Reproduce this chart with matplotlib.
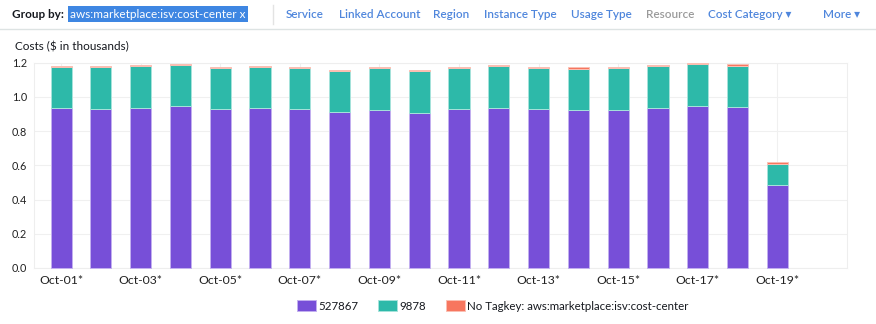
import matplotlib
matplotlib.use("Agg")
import matplotlib.pyplot as plt
from matplotlib.patches import Patch
from matplotlib.lines import Line2D
import numpy as np

plt.rcParams['font.family'] = ['Lato', 'DejaVu Sans']

days = ["Oct-%02d*" % d for d in range(1, 20)]
cc_527867 = [0.934, 0.930, 0.936, 0.945, 0.930, 0.932, 0.926, 0.910, 0.924, 0.908,
             0.926, 0.936, 0.926, 0.924, 0.924, 0.936, 0.947, 0.941, 0.482]
cc_9878 = [0.242, 0.242, 0.244, 0.243, 0.240, 0.242, 0.240, 0.242, 0.242, 0.243,
           0.240, 0.242, 0.242, 0.240, 0.242, 0.242, 0.243, 0.241, 0.128]
no_tagkey = [0.006, 0.008, 0.006, 0.005, 0.006, 0.006, 0.008, 0.006, 0.008, 0.006,
             0.006, 0.006, 0.008, 0.008, 0.006, 0.008, 0.009, 0.008, 0.007]
series_names = ["527867", "9878", "No Tagkey: aws:marketplace:isv:cost-center"]
colors = ["#774fd8", "#2db9a9", "#f7765f"]
edges = ["#c3b0f0", "#a6e3db", "#fbc0b4"]

fig = plt.figure(figsize=(8.76, 3.24), dpi=100)
ax = fig.add_axes([34 / 876, 1 - 268 / 324, (847 - 34) / 876, (268 - 62.6) / 324])

x = np.arange(len(days))
bottom = np.zeros(len(days))
for vals, c, ec in zip([cc_527867, cc_9878, no_tagkey], colors, edges):
    ax.bar(x, vals, width=0.53, bottom=bottom, color=c, edgecolor=ec, linewidth=0.7,
           zorder=3, clip_on=False)
    bottom += np.array(vals)

ax.set_xlim(-0.68, 19.75)
ax.set_ylim(0, 1.2)
ax.set_yticks(np.arange(0, 1.21, 0.2))
ax.set_yticklabels(["%.1f" % v for v in np.arange(0, 1.21, 0.2)])
ax.set_xticks(x[::2])
ax.set_xticklabels(days[::2])
ax.tick_params(length=0, labelsize=7.8, colors="#222222")
ax.tick_params(axis="x", labelsize=8.8, pad=5)
ax.tick_params(axis="y", pad=5)
ax.grid(True, color="#f0f0f0", linewidth=0.8, zorder=0)
for s in ax.spines.values():
    s.set_color("#eeeeee")
    s.set_linewidth(0.8)

fig.text(15 / 876, 1 - 47 / 324, "Costs ($ in thousands)", fontsize=8.5,
         color="#16191f", va="center", ha="left")

# header
fig.add_artist(Line2D([0, 1], [1 - 29 / 324] * 2, color="#dde3e3", linewidth=1))
fig.text(12 / 876, 1 - 14 / 324, "Group by:", fontsize=8.5, fontweight="bold",
         color="#16191f", va="center")
fig.text(70 / 876, 1 - 14 / 324, "aws:marketplace:isv:cost-center x", fontsize=8.5,
         color="white", va="center",
         bbox=dict(boxstyle="square,pad=0.18", facecolor="#3e86e2", edgecolor="none"))
fig.add_artist(Line2D([273 / 876] * 2, [1 - 5 / 324, 1 - 24 / 324], color="#e3e3e3",
                      linewidth=1))
links = [("Service", 286), ("Linked Account", 339), ("Region", 433),
         ("Instance Type", 484), ("Usage Type", 571), ("Resource", 646),
         ("Cost Category \u25be", 708), ("More \u25be", 823)]
for label, px in links:
    col = "#9a9a9a" if label == "Resource" else "#4f86dc"
    fig.text(px / 876, 1 - 14 / 324, label, fontsize=8.5, color=col, va="center",
             fontweight="semibold")

handles = [Patch(facecolor=c, edgecolor=ec, linewidth=0.7) for c, ec in zip(colors, edges)]
fig.legend(handles, series_names, loc="center", bbox_to_anchor=(492.5 / 876, 1 - 306 / 324),
           ncol=3, frameon=False, fontsize=8.3, handlelength=1.65, handleheight=1.05,
           handletextpad=0.17, columnspacing=1.73, labelcolor="#16191f")

fig.savefig("out.png", dpi=100)
